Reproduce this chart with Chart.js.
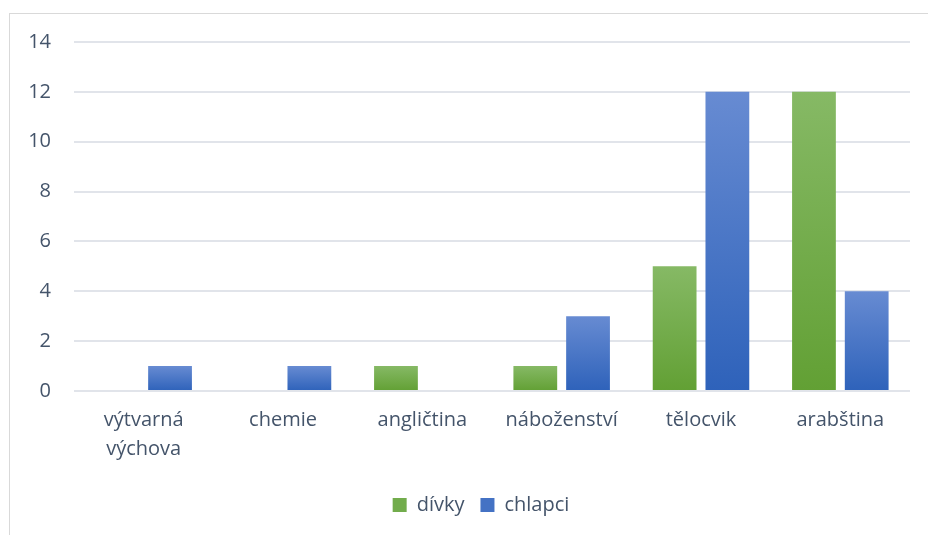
<!DOCTYPE html>
<html>
<head>
<meta charset="utf-8">
<script src="https://cdn.jsdelivr.net/npm/chart.js@4.4.0/dist/chart.umd.min.js"></script>
<style>
  body { margin: 0; background: #fff; }
  #wrap { position: relative; width: 928px; height: 535px; overflow: hidden; }
  #frame { position: absolute; left: 9px; top: 13px; width: 940px; height: 540px; border: 1px solid #d9d9d9; box-sizing: border-box; }
  canvas { position: absolute; left: 0; top: 0; }
</style>
</head>
<body>
<div id="wrap">
  <div id="frame"></div>
  <canvas id="myChart" width="928" height="535"></canvas>
</div>
<script>
// data
let subjects = [['výtvarná', 'výchova'], 'chemie', 'angličtina', 'náboženství', 'tělocvik', 'arabština'];
let divky = [0, 0, 1, 1, 5, 12];
let chlapci = [1, 1, 0, 3, 12, 4];
let seriesNames = ['dívky', 'chlapci'];

let textColor = '#44546a';
let fontName = '"Open Sans", Lato, sans-serif';

// each bar gets its own light-to-dark vertical gradient
function barFill(light, dark){
  return function(ctx){
    let chart = ctx.chart;
    let yScale = chart.scales.y;
    if (!yScale || ctx.raw === undefined) return dark;
    let top = yScale.getPixelForValue(ctx.raw);
    let base = yScale.getPixelForValue(0);
    if (!isFinite(top) || top === base) return dark;
    let g = chart.ctx.createLinearGradient(0, top, 0, base);
    g.addColorStop(0, light);
    g.addColorStop(1, dark);
    return g;
  };
}

// legend sits a bit right of centre in the original
let legendShift = {
  id: 'legendShift',
  afterLayout: function(chart){
    if (chart.legend) {
      chart.legend.left += 26;
      chart.legend.right += 26;
    }
  }
};

var ctx = document.getElementById('myChart').getContext('2d');
var myChart = new Chart(ctx, {
  type: 'bar',
  data: {
    labels: subjects,
    datasets: [{
      label: seriesNames[0],
      data: divky,
      backgroundColor: barFill('#86b965', '#62a034'),
      borderWidth: 0
    }, {
      label: seriesNames[1],
      data: chlapci,
      backgroundColor: barFill('#678bd2', '#2e62ba'),
      borderWidth: 0
    }]
  },
  plugins: [legendShift],
  options: {
    responsive: false,
    animation: false,
    layout: { padding: { left: 0, right: 18, top: 42, bottom: 10 } },
    datasets: {
      bar: { categoryPercentage: 0.757, barPercentage: 0.83 }
    },
    plugins: {
      tooltip: { enabled: false },
      legend: {
        position: 'bottom',
        labels: {
          color: textColor,
          font: { family: fontName, size: 20 },
          boxWidth: 14,
          boxHeight: 14,
          padding: 16,
          generateLabels: function(chart){
            let fills = ['#72ac4c', '#4472c4'];
            return chart.data.datasets.map(function(ds, i){
              return { text: ds.label, fillStyle: fills[i], strokeStyle: fills[i], lineWidth: 0, datasetIndex: i, fontColor: textColor };
            });
          }
        }
      }
    },
    scales: {
      x: {
        grid: { display: false, drawTicks: false },
        border: { display: false },
        ticks: { color: textColor, font: { family: fontName, size: 20, lineHeight: 1.45 }, padding: 15, maxRotation: 0 },
        afterFit: function(scale){ scale.height = 88; }
      },
      y: {
        min: 0,
        max: 14,
        ticks: { stepSize: 2, color: textColor, font: { family: fontName, size: 20 }, padding: 23 },
        grid: { color: '#e1e4ea', lineWidth: 2, drawTicks: false },
        border: { display: false },
        afterFit: function(scale){ scale.width = 74; }
      }
    }
  }
});
</script>
</body>
</html>
